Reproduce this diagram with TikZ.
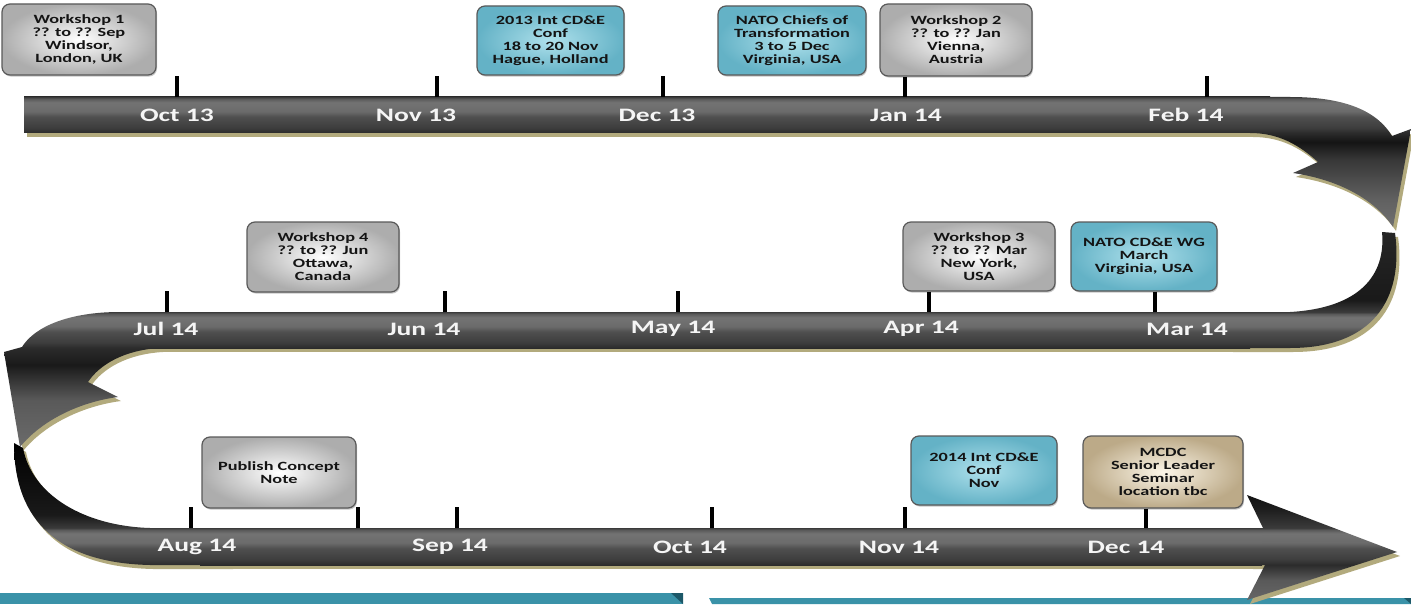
\documentclass[tikz,border=0pt]{standalone}
\usepackage{fontspec}
\newfontfamily\stfont[FakeStretch=1.45]{Carlito}
\usetikzlibrary{shadows}
\newcommand\boxfnt{\stfont\bfseries\fontsize{6.3}{6.5}\selectfont}
\newcommand\labfnt{\stfont\bfseries\fontsize{9.5}{10}\selectfont}
\definecolor{olivesh}{RGB}{178,170,125}
\definecolor{tealbar}{RGB}{58,146,168}
\definecolor{tealdark}{RGB}{28,88,104}
\definecolor{bluein}{RGB}{175,225,236}
\definecolor{blueout}{RGB}{100,178,198}
\definecolor{tanin}{RGB}{252,246,232}
\definecolor{tanout}{RGB}{188,170,136}
\pgfdeclareverticalshading{bandsh}{100bp}{color(0bp)=(black!83); color(25bp)=(black!83); color(32.5bp)=(black!76); color(47.5bp)=(black!69); color(55bp)=(black!58); color(67.5bp)=(black!55); color(72.5bp)=(black!65); color(75bp)=(black!77); color(100bp)=(black!77)}
\pgfdeclareverticalshading{curveTR}{100bp}{color(0bp)=(black!56); color(25bp)=(black!56); color(35.4bp)=(black!62); color(50.8bp)=(black!78); color(57.7bp)=(black!92); color(61.2bp)=(black!83); color(63.2bp)=(black!76); color(67.4bp)=(black!69); color(69.5bp)=(black!58); color(72.9bp)=(black!55); color(74.3bp)=(black!65); color(75bp)=(black!77); color(100bp)=(black!77)}
\pgfdeclareverticalshading{curveRM}{100bp}{color(0bp)=(black!83); color(25bp)=(black!83); color(27.3bp)=(black!76); color(32bp)=(black!69); color(34.3bp)=(black!58); color(38.2bp)=(black!55); color(39.7bp)=(black!65); color(40.5bp)=(black!77); color(45.7bp)=(black!90); color(75bp)=(black!85); color(100bp)=(black!85)}
\pgfdeclareverticalshading{curveLM}{100bp}{color(0bp)=(black!58); color(25bp)=(black!58); color(42.4bp)=(black!65); color(55.4bp)=(black!90); color(61.7bp)=(black!83); color(63.7bp)=(black!76); color(67.7bp)=(black!69); color(69.7bp)=(black!58); color(73bp)=(black!55); color(74.3bp)=(black!65); color(75bp)=(black!77); color(100bp)=(black!77)}
\pgfdeclareverticalshading{curveLB}{100bp}{color(0bp)=(black!83); color(25bp)=(black!83); color(27.3bp)=(black!76); color(31.8bp)=(black!69); color(34.1bp)=(black!58); color(37.9bp)=(black!55); color(39.4bp)=(black!65); color(40.2bp)=(black!77); color(45.5bp)=(black!90); color(75bp)=(black); color(100bp)=(black)}
\pgfdeclareverticalshading{curveBA}{100bp}{color(0bp)=(black!60); color(25bp)=(black!60); color(34.5bp)=(black!65); color(41.7bp)=(black!83); color(44.3bp)=(black!76); color(49.6bp)=(black!69); color(52.3bp)=(black!58); color(56.7bp)=(black!55); color(58.4bp)=(black!65); color(59.3bp)=(black!77); color(67.9bp)=(black!88); color(75bp)=(black!93); color(100bp)=(black!93)}
\tikzset{
  evbox/.style={rounded corners=4pt, draw=black!65, line width=0.6pt, align=center,
    inner sep=1pt, font=\boxfnt, text=black!92,
    drop shadow={shadow xshift=0.5pt, shadow yshift=-0.8pt, opacity=0.45}},
  gbox/.style={evbox, inner color=white, outer color=black!32},
  bbox/.style={evbox, inner color=bluein, outer color=blueout},
  tbox/.style={evbox, inner color=tanin, outer color=tanout},
  mlab/.style={font=\labfnt, text=black!4, inner sep=0pt},
  tick/.style={line width=2pt, black},
  pTR/.style={insert path={(1250,97) -- (1290,97) .. controls (1345,97) and (1377,111) .. (1392,136) -- (1411,129) -- (1393,227) .. controls (1375,200) and (1340,180) .. (1293,173) -- (1318,162) .. controls (1300,146) and (1280,133) .. (1250,133) -- cycle}},
  pRM/.style={insert path={(1382,232) .. controls (1386,275) and (1360,308) .. (1290,312) -- (1230,312) -- (1230,348) -- (1290,348) .. controls (1372,348) and (1404,300) .. (1395,233) -- cycle}},
  pLM/.style={insert path={(160,312) -- (120,312) .. controls (70,312) and (35,326) .. (22,347) -- (4,352) -- (20,447) .. controls (42,420) and (80,402) .. (118,397) -- (88,382) .. controls (100,364) and (125,350) .. (160,348) -- cycle}},
  pLB/.style={insert path={(14,443) .. controls (14,522) and (60,563) .. (150,565) -- (230,565) -- (230,528) -- (150,528) .. controls (84,526) and (32,495) .. (23,448) -- cycle}},
  pBA/.style={insert path={(1250,528) -- (1263,528) -- (1247,495) -- (1397,552) -- (1247,600) -- (1265,565) -- (1250,565) -- cycle}},
}
\begin{document}
\begin{tikzpicture}[x=0.5pt,y=-0.5pt]
\useasboundingbox (0,0) rectangle (1411,604);
% teal bars at the bottom
\fill[tealbar] (0,593) -- (683,593) -- (683,604) -- (0,604) -- cycle;
\fill[tealdark] (671,593) -- (683,593) -- (683,604) -- cycle;
\fill[tealbar] (709,598) -- (1411,598) -- (1411,604) -- (712,604) -- cycle;
\fill[tealdark] (1404,598) -- (1411,598) -- (1411,604) -- cycle;
% olive shadows
\begin{scope}[shift={(3,4)}]
  \fill[olivesh, pTR];
  \fill[olivesh, pRM];
  \fill[olivesh, pLM];
  \fill[olivesh, pLB];
  \fill[olivesh, pBA];
  \fill[olivesh] (24,97) rectangle (1270,133);
  \fill[olivesh] (150,312) rectangle (1250,348);
  \fill[olivesh] (150,528) rectangle (1268,565);
\end{scope}
% curved parts
\shade[shading=curveTR, pTR];
\shade[shading=curveRM, pRM];
\shade[shading=curveLM, pLM];
\shade[shading=curveLB, pLB];
\shade[shading=curveBA, pBA];
% straight bands
\shade[shading=bandsh] (24,97) rectangle (1270,133);
\shade[shading=bandsh] (140,312) rectangle (1250,348);
\shade[shading=bandsh] (200,528) rectangle (1262,565);
% month labels
\node[mlab] (oct13) at (177,115) {Oct 13};
\node[mlab] (nov13) at (416,115) {Nov 13};
\node[mlab] (dec13) at (657,115) {Dec 13};
\node[mlab] (jan14) at (906,115) {Jan 14};
\node[mlab] (feb14) at (1186,115) {Feb 14};
\node[mlab] (jul14) at (166,329) {Jul 14};
\node[mlab] (jun14) at (424,329) {Jun 14};
\node[mlab] (may14) at (673,329) {May 14};
\node[mlab] (apr14) at (921,329) {Apr 14};
\node[mlab] (mar14) at (1187,329) {Mar 14};
\node[mlab] (aug14) at (197,547) {Aug 14};
\node[mlab] (sep14) at (450,547) {Sep 14};
\node[mlab] (oct14) at (690,547) {Oct 14};
\node[mlab] (nov14) at (899,547) {Nov 14};
\node[mlab] (dec14) at (1126,547) {Dec 14};
% event boxes
\node[gbox, minimum width=77pt, minimum height=35.5pt] (w1) at (79,39.5) {Workshop 1\\?? to ?? Sep\\Windsor,\\London, UK};
\node[bbox, minimum width=73.5pt, minimum height=34.5pt] (c13) at (550.5,40.5) {2013 Int CD\&E\\Conf\\18 to 20 Nov\\Hague, Holland};
\node[bbox, minimum width=74pt, minimum height=34.5pt] (nct) at (792,40.5) {NATO Chiefs of\\Transformation\\3 to 5 Dec\\Virginia, USA};
\node[gbox, minimum width=76pt, minimum height=36pt] (w2) at (956,40) {Workshop 2\\?? to ?? Jan\\Vienna,\\Austria};
\node[gbox, minimum width=76pt, minimum height=35pt] (w4) at (323,257) {Workshop 4\\?? to ?? Jun\\Ottawa,\\Canada};
\node[gbox, minimum width=76pt, minimum height=34.5pt] (w3) at (979,256.5) {Workshop 3\\?? to ?? Mar\\New York,\\USA};
\node[bbox, minimum width=73pt, minimum height=34.5pt] (wg) at (1144,256.5) {NATO CD\&E WG\\March\\Virginia, USA};
\node[gbox, minimum width=77pt, minimum height=35.5pt] (pcn) at (279,472.5) {Publish Concept\\Note};
\node[bbox, minimum width=73pt, minimum height=34.5pt] (c14) at (984,470.5) {2014 Int CD\&E\\Conf\\Nov};
\node[tbox, minimum width=80pt, minimum height=36pt] (mcdc) at (1163,472) {MCDC\\Senior Leader\\Seminar\\location tbc};
% tick anchor points on the bands
\coordinate (t1) at (177,97);
\coordinate (t2) at (437,97);
\coordinate (t3) at (663,97);
\coordinate (t4) at (905,97);
\coordinate (t5) at (1207,97);
\coordinate (m1) at (167,312);
\coordinate (m2) at (445,312);
\coordinate (m3) at (678,312);
\coordinate (m4) at (929,312);
\coordinate (m5) at (1155,312);
\coordinate (b1) at (191,528);
\coordinate (b2) at (358,528);
\coordinate (b3) at (457,528);
\coordinate (b4) at (712,528);
\coordinate (b5) at (905,528);
\coordinate (b6) at (1146,528);
% ticks
\draw[tick] (t1) -- ++(0,-21);
\draw[tick] (t2) -- ++(0,-21);
\draw[tick] (t3) -- ++(0,-21);
\draw[tick] (w2.south -| t4) -- (t4);
\draw[tick] (t5) -- ++(0,-21);
\draw[tick] (m1) -- ++(0,-21);
\draw[tick] (m2) -- ++(0,-21);
\draw[tick] (m3) -- ++(0,-21);
\draw[tick] (w3.south -| m4) -- (m4);
\draw[tick] (wg.south -| m5) -- (m5);
\draw[tick] (b1) -- ++(0,-21);
\draw[tick] (b2) -- ++(0,-21);
\draw[tick] (b3) -- ++(0,-21);
\draw[tick] (b4) -- ++(0,-21);
\draw[tick] (b5) -- ++(0,-21);
\draw[tick] (mcdc.south -| b6) -- (b6);
\end{tikzpicture}
\end{document}
